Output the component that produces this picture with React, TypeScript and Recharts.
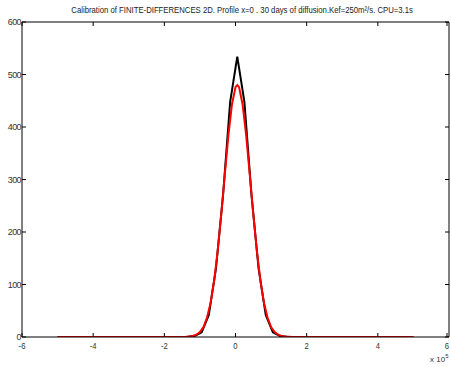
import { Line, LineChart, XAxis, YAxis } from "recharts";

const redX = [-5, -4, -3, -2, -1.6, -1.4, -1.3, -1.2, -1.1, -1.0, -0.9, -0.8, -0.7, -0.6, -0.5, -0.4, -0.3, -0.2, -0.1, 0, 0.05, 0.1, 0.2, 0.3, 0.4, 0.5, 0.6, 0.7, 0.8, 0.9, 1.0, 1.1, 1.2, 1.3, 1.4, 1.5, 1.6, 2, 3, 4, 5];
const redY = [0, 0, 0, 0, 0, 0.3, 0.7, 1.9, 4.4, 9.5, 19, 37, 65, 107, 164, 234, 310, 384, 443, 476, 480, 476, 443, 384, 310, 234, 164, 107, 65, 37, 19, 9.5, 4.4, 1.9, 0.7, 0.3, 0, 0, 0, 0, 0];

const blackX = [-5, -4, -3, -2, -1.55, -1.35, -1.15, -0.95, -0.75, -0.55, -0.35, -0.15, 0.05, 0.25, 0.45, 0.65, 0.85, 1.05, 1.25, 1.45, 2, 3, 4, 5];
const blackY = [0, 0, 0, 0, 0.1, 0.5, 2, 9, 42, 130, 270, 448, 534, 448, 270, 130, 42, 9, 2, 0.5, 0, 0, 0, 0];

const xTicks = [-6, -4, -2, 0, 2, 4, 6];
const yTicks = [0, 100, 200, 300, 400, 500, 600];

const TITLE = "Calibration of FINITE-DIFFERENCES 2D. Profile x=0 . 30 days of diffusion.Kef=250m\u00b2/s. CPU=3.1s";

const redData = redX.map((x, i) => ({ x, y: redY[i] }));
const blackData = blackX.map((x, i) => ({ x, y: blackY[i] }));

const FONT = "'Liberation Sans', Arial, sans-serif";

function BottomTick({ x, y, payload }: any) {
  return (
    <g>
      <line x1={x} x2={x} y1={y} y2={y - 4} stroke="#000" />
      <text
        x={x}
        y={y + 12}
        textAnchor="middle"
        fontSize={9}
        fontFamily={FONT}
        fill="#333"
        transform={`translate(${x} 0) scale(0.85 1) translate(${-x} 0)`}
      >
        {payload.value}
      </text>
    </g>
  );
}

function LeftTick({ x, y, payload }: any) {
  return (
    <g>
      <line x1={x} x2={x + 4} y1={y} y2={y} stroke="#000" />
      <text
        x={x - 1}
        y={y + 3}
        textAnchor="end"
        fontSize={9}
        fontFamily={FONT}
        fill="#333"
        letterSpacing={-0.6}
      >
        {payload.value}
      </text>
    </g>
  );
}

function TopTick({ x, y }: any) {
  return <line x1={x} x2={x} y1={y} y2={y + 4} stroke="#000" />;
}

function RightTick({ x, y }: any) {
  return <line x1={x} x2={x - 4} y1={y} y2={y} stroke="#000" />;
}

export default function App() {
  return (
    <div style={{ position: "absolute", left: 0, top: 0, width: 451, height: 367, background: "#fff" }}>
      <div
        style={{
          position: "absolute",
          left: 34,
          top: 5,
          width: 484,
          textAlign: "center",
          fontSize: 9,
          fontFamily: FONT,
          color: "#222",
          whiteSpace: "nowrap",
          transform: "scaleX(0.86)",
          transformOrigin: "0 0",
        }}
      >
        {TITLE}
      </div>
      <LineChart width={451} height={367} margin={{ top: 21, right: 1, left: 0, bottom: 0 }}>
        <XAxis
          type="number"
          dataKey="x"
          domain={[-6, 6]}
          ticks={xTicks}
          tickLine={false}
          tickSize={0}
          tickMargin={0}
          height={30}
          axisLine={{ stroke: "#000" }}
          tick={<BottomTick />}
          allowDataOverflow
        />
        <XAxis
          xAxisId="top"
          orientation="top"
          type="number"
          dataKey="x"
          domain={[-6, 6]}
          ticks={xTicks}
          tickLine={false}
          tickSize={0}
          tickMargin={0}
          height={1}
          axisLine={{ stroke: "#000" }}
          tick={<TopTick />}
          allowDataOverflow
        />
        <YAxis
          type="number"
          domain={[0, 600]}
          ticks={yTicks}
          tickLine={false}
          tickSize={0}
          tickMargin={0}
          width={22}
          axisLine={{ stroke: "#000" }}
          tick={<LeftTick />}
          allowDataOverflow
        />
        <YAxis
          yAxisId="right"
          orientation="right"
          type="number"
          domain={[0, 600]}
          ticks={yTicks}
          tickLine={false}
          tickSize={0}
          tickMargin={0}
          width={1}
          axisLine={{ stroke: "#000" }}
          tick={<RightTick />}
          allowDataOverflow
        />
        <Line
          data={blackData}
          xAxisId="top"
          yAxisId="right"
          dataKey="y"
          stroke="none"
          dot={false}
          activeDot={false}
          isAnimationActive={false}
        />
        <Line data={blackData} dataKey="y" stroke="#000" strokeWidth={2} dot={false} isAnimationActive={false} />
        <Line data={redData} dataKey="y" stroke="#ff0000" strokeWidth={2} dot={false} isAnimationActive={false} />
      </LineChart>
      <div style={{ position: "absolute", left: 430, top: 353, fontSize: 8, fontFamily: FONT, color: "#333", whiteSpace: "nowrap" }}>
        x 10<sup style={{ fontSize: 6, verticalAlign: "4px" }}>5</sup>
      </div>
    </div>
  );
}
